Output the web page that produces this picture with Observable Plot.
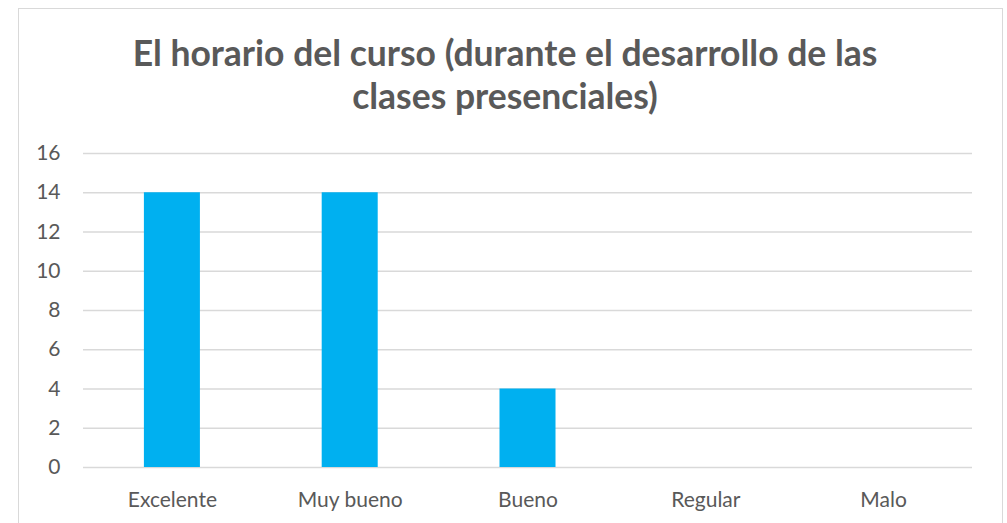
<!DOCTYPE html>
<html>
<head>
<meta charset="utf-8">
<script src="https://cdn.jsdelivr.net/npm/d3@7"></script>
<script src="https://cdn.jsdelivr.net/npm/@observablehq/plot@0.6"></script>
<style>
  html, body { margin: 0; padding: 0; background: #fff; }
  #wrap { position: relative; width: 1007px; height: 523px; overflow: hidden; background: #fff; font-family: Lato, "Open Sans", sans-serif; }
  #frame { position: absolute; left: 18px; top: 8px; width: 985px; height: 600px; border: 1px solid #d9d9d9; box-sizing: border-box; }
  #title { position: absolute; left: 0; top: 31px; width: 1010px; text-align: center; color: #595959; font-weight: bold; font-size: 35.5px; line-height: 43px; }
  #chart { position: absolute; left: 0; top: 130px; }
</style>
</head>
<body>
<div id="wrap">
  <div id="frame"></div>
  <div id="title"></div>
  <div id="chart"></div>
</div>
<script>
const titleLines = ["El horario del curso (durante el desarrollo de las", "clases presenciales)"];
const categories = ["Excelente", "Muy bueno", "Bueno", "Regular", "Malo"];
const values = [14, 14, 4, 0, 0];
const yTicks = [0, 2, 4, 6, 8, 10, 12, 14, 16];

document.getElementById("title").innerHTML = titleLines.map(t => `<div>${t}</div>`).join("");

const data = categories.map((c, i) => ({category: c, value: values[i]}));

const chart = Plot.plot({
  width: 1007,
  height: 393,
  marginTop: 23,
  marginBottom: 56,
  marginLeft: 83,
  marginRight: 35,
  style: {fontFamily: "Lato, 'Open Sans', sans-serif", fontSize: "21px", color: "#595959", background: "transparent"},
  x: {domain: categories, paddingInner: 0.685, paddingOuter: 0.3425, round: false, label: null},
  y: {domain: [0, 16], label: null},
  marks: [
    Plot.ruleY(yTicks, {stroke: "#d9d9d9", strokeWidth: 1.3}),
    Plot.barY(data, {x: "category", y: "value", fill: "#00b0f0"}),
    Plot.axisY({ticks: yTicks, tickSize: 0, tickPadding: 23, fill: "#595959", fontSize: 21, label: null}),
    Plot.axisX({tickSize: 0, tickPadding: 25, fill: "#595959", fontSize: 21, label: null})
  ]
});
document.getElementById("chart").appendChild(chart);
</script>
</body>
</html>
